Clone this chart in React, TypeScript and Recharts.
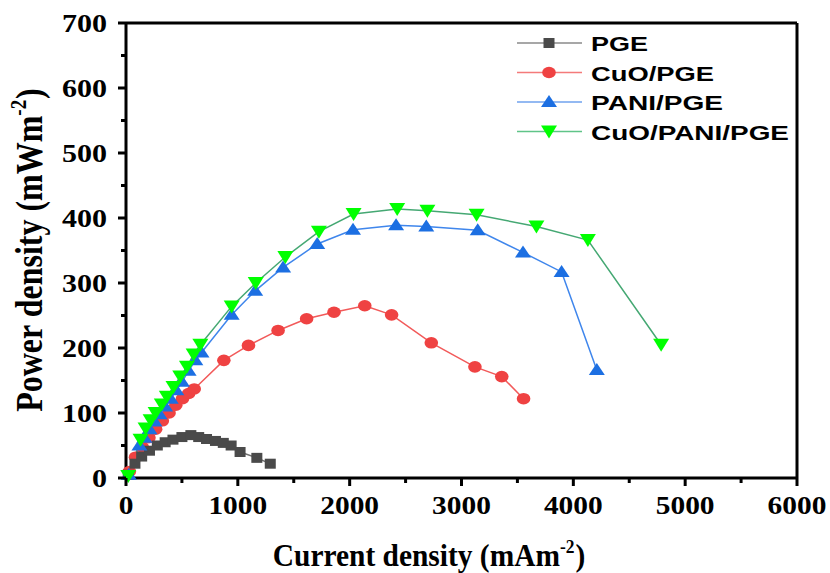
import React from 'react';
import { LineChart, Line, XAxis, YAxis, ReferenceLine, Legend, Label } from 'recharts';

// values
const pgeCurrent = [20, 80, 140, 210, 280, 350, 420, 500, 580, 650, 720, 800, 870, 940, 1020, 1170, 1290];
const pgePower = [5, 22, 33, 42, 50, 55, 59, 63, 66, 63, 60, 57, 54, 50, 40, 31, 22];

const cuoCurrent = [30, 85, 145, 205, 265, 325, 385, 445, 505, 560, 610, 875, 1095, 1360, 1615, 1860, 2135, 2375, 2730, 3120, 3360, 3555];
const cuoPower = [10, 32, 48, 62, 75, 88, 100, 112, 122, 130, 137, 181, 204, 227, 245, 255, 265, 251, 208, 171, 156, 122];

const paniCurrent = [25, 120, 165, 210, 255, 300, 350, 400, 450, 500, 560, 620, 675, 945, 1155, 1405, 1710, 2030, 2415, 2685, 3145, 3550, 3895, 4210];
const paniPower = [5, 50, 62, 75, 87, 98, 110, 122, 135, 148, 165, 181, 193, 251, 288, 324, 360, 382, 389, 387, 381, 347, 317, 166];

const cuoPaniCurrent = [20, 130, 175, 220, 265, 320, 365, 425, 485, 545, 605, 665, 945, 1160, 1425, 1725, 2035, 2425, 2695, 3135, 3670, 4130, 4785];
const cuoPaniPower = [3, 59, 76, 89, 100, 113, 125, 140, 156, 171, 190, 205, 264, 300, 340, 379, 406, 414, 411, 405, 387, 366, 205];

const seriesNames = ['PGE', 'CuO/PGE', 'PANI/PGE', 'CuO/PANI/PGE'];
const xTicks = [0, 500, 1000, 1500, 2000, 2500, 3000, 3500, 4000, 4500, 5000, 5500, 6000];
const yTicks = [0, 50, 100, 150, 200, 250, 300, 350, 400, 450, 500, 550, 600, 650, 700];

const toRows = (xs: number[], ys: number[]) => xs.map((x, i) => ({ x, y: ys[i] }));

const pgeData = toRows(pgeCurrent, pgePower);
const cuoData = toRows(cuoCurrent, cuoPower);
const paniData = toRows(paniCurrent, paniPower);
const cuoPaniData = toRows(cuoPaniCurrent, cuoPaniPower);

const serif = '"Liberation Serif", "Times New Roman", serif';
const sans = '"Liberation Sans", Arial, sans-serif';

const markerFill: Record<string, string> = {
  square: '#4a4a4a',
  circle: '#ef4242',
  up: '#1c6fe2',
  down: '#00ff00',
};

const Marker = ({ cx, cy, shape }: { cx: number; cy: number; shape: string }) => {
  const fill = markerFill[shape];
  if (shape === 'square') return <rect x={cx - 5.5} y={cy - 5} width={11} height={10} fill={fill} />;
  if (shape === 'circle') return <ellipse cx={cx} cy={cy} rx={6.8} ry={5.8} fill={fill} />;
  if (shape === 'up')
    return <polygon points={`${cx},${cy - 7} ${cx - 8},${cy + 5} ${cx + 8},${cy + 5}`} fill={fill} />;
  return <polygon points={`${cx - 8},${cy - 6} ${cx + 8},${cy - 6} ${cx},${cy + 7}`} fill={fill} />;
};

const makeDot = (shape: string) => (props: any) => {
  const { cx, cy, index } = props;
  return (
    <g key={`${shape}-${index}`}>
      <Marker cx={cx} cy={cy} shape={shape} />
    </g>
  );
};

const XTick = (props: any) => {
  const { x, y, payload } = props;
  const major = payload.value % 1000 === 0;
  const label = String(payload.value);
  return (
    <g>
      <line x1={x} y1={y} x2={x} y2={y + (major ? 8 : 5)} stroke="#000" strokeWidth={3} />
      {major && (
        <text
          x={x}
          y={y + 36}
          textAnchor="middle"
          fontFamily={serif}
          fontWeight="bold"
          fontSize={26}
          fill="#000"
          textLength={label.length * 14.7}
          lengthAdjust="spacingAndGlyphs"
        >
          {label}
        </text>
      )}
    </g>
  );
};

const YTick = (props: any) => {
  const { x, y, payload } = props;
  const major = payload.value % 100 === 0;
  const label = String(payload.value);
  return (
    <g>
      <line x1={x} y1={y} x2={x - (major ? 8 : 5)} y2={y} stroke="#000" strokeWidth={3} />
      {major && (
        <text
          x={x - 19}
          y={y + 9}
          textAnchor="end"
          fontFamily={serif}
          fontWeight="bold"
          fontSize={26}
          fill="#000"
          textLength={label.length * 15}
          lengthAdjust="spacingAndGlyphs"
        >
          {label}
        </text>
      )}
    </g>
  );
};

const XTitle = () => (
  <text
    transform="translate(429,566) scale(0.92,1)"
    x={0}
    y={0}
    textAnchor="middle"
    fontFamily={serif}
    fontWeight="bold"
    fontSize={32}
    fill="#000"
  >
    Current density (mAm
    <tspan dy={-13} fontSize={19}>-2</tspan>
    <tspan dy={13} dx={1}>)</tspan>
  </text>
);

const YTitle = () => (
  <text
    transform="translate(42,250) scale(1.2,1) rotate(-90)"
    x={0}
    y={0}
    textAnchor="middle"
    fontFamily={serif}
    fontWeight="bold"
    fontSize={32}
    fill="#000"
  >
    Power density (mWm
    <tspan dy={-13} fontSize={19}>-2</tspan>
    <tspan dy={13} dx={1}>)</tspan>
  </text>
);

const legendLines = ['#8a8a8a', '#f47a7a', '#6fa2ee', '#5fc488'];
const legendShapes = ['square', 'circle', 'up', 'down'];
const legendWidths = [57, 123, 132, 198];

const ChartLegend = () => (
  <svg width={300} height={125}>
    {seriesNames.map((name, i) => {
      const cy = 18 + i * 29.5;
      return (
        <g key={name}>
          <line x1={12} y1={cy} x2={77} y2={cy} stroke={legendLines[i]} strokeWidth={1.5} />
          <Marker cx={44} cy={cy} shape={legendShapes[i]} />
          <text
            x={86}
            y={cy + 8}
            fontFamily={sans}
            fontWeight="bold"
            fontSize={21}
            fill="#000"
            textLength={legendWidths[i]}
            lengthAdjust="spacingAndGlyphs"
          >
            {name}
          </text>
        </g>
      );
    })}
  </svg>
);

export default function App() {
  return (
    <div style={{ position: 'absolute', left: 0, top: 0, width: 830, height: 573, background: '#fff' }}>
      <LineChart width={830} height={573} margin={{ top: 23, right: 33, bottom: 0, left: 0 }}>
        <XAxis
          type="number"
          dataKey="x"
          domain={[0, 6000]}
          ticks={xTicks}
          interval={0}
          height={95}
          tickSize={0}
          tickMargin={0}
          axisLine={{ stroke: '#000', strokeWidth: 3 }}
          tick={XTick}
        >
          <Label content={XTitle} />
        </XAxis>
        <YAxis
          type="number"
          dataKey="y"
          domain={[0, 700]}
          ticks={yTicks}
          interval={0}
          width={126}
          tickSize={0}
          tickMargin={0}
          axisLine={{ stroke: '#000', strokeWidth: 3 }}
          tick={YTick}
        >
          <Label content={YTitle} />
        </YAxis>
        <ReferenceLine y={700} stroke="#000" strokeWidth={3} />
        <ReferenceLine x={6000} stroke="#000" strokeWidth={3} />
        <Line
          data={cuoData}
          dataKey="y"
          name="CuO/PGE"
          stroke="#f25a5a"
          strokeWidth={1.5}
          dot={makeDot('circle')}
          isAnimationActive={false}
        />
        <Line
          data={pgeData}
          dataKey="y"
          name="PGE"
          stroke="#707070"
          strokeWidth={1.5}
          dot={makeDot('square')}
          isAnimationActive={false}
        />
        <Line
          data={paniData}
          dataKey="y"
          name="PANI/PGE"
          stroke="#3f86ec"
          strokeWidth={1.5}
          dot={makeDot('up')}
          isAnimationActive={false}
        />
        <Line
          data={cuoPaniData}
          dataKey="y"
          name="CuO/PANI/PGE"
          stroke="#45a873"
          strokeWidth={1.5}
          dot={makeDot('down')}
          isAnimationActive={false}
        />
        <Legend
          layout="vertical"
          align="center"
          verticalAlign="middle"
          content={ChartLegend}
          wrapperStyle={{ left: 505, top: 25, width: 300, height: 125 }}
        />
      </LineChart>
    </div>
  );
}
